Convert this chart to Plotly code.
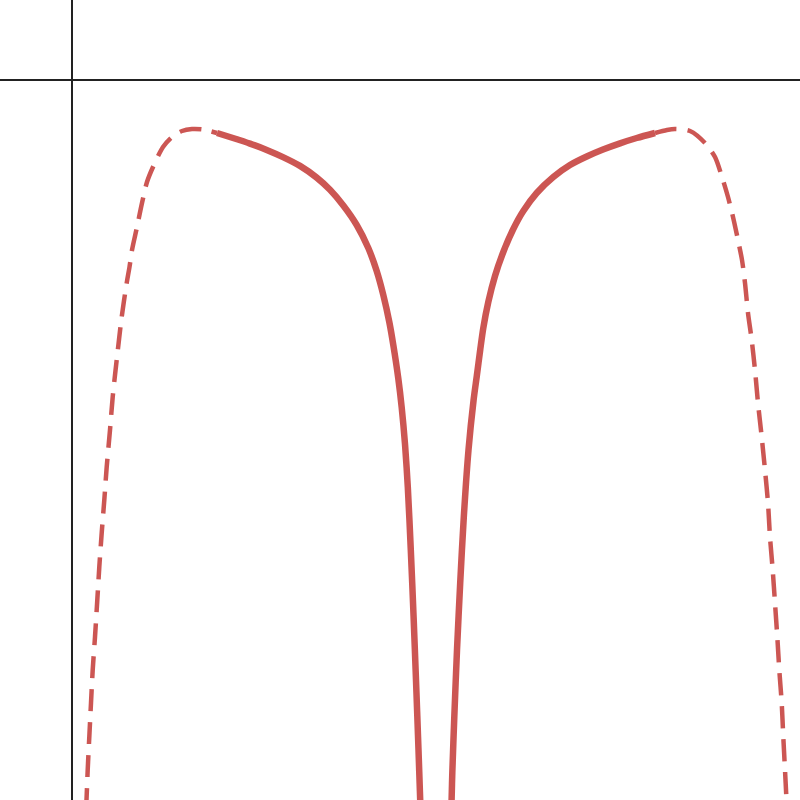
import plotly.graph_objects as go

# Dashed outer curve, left part (bottom to top)
dash_left_x = [0.14, 0.145, 0.157, 0.173, 0.19, 0.207, 0.23, 0.253, 0.273, 0.297, 0.323, 0.347, 0.38, 0.407,
               0.447, 0.497, 0.547, 0.575, 0.60, 0.65, 0.70, 0.75, 0.81, 0.91, 1.00, 1.10, 1.20, 1.31, 1.45]
dash_left_y = [-7.30, -7.20, -6.90, -6.57, -6.23, -5.90, -5.57, -5.20, -4.87, -4.53, -4.20, -3.87, -3.50, -3.17,
               -2.80, -2.37, -2.03, -1.87, -1.70, -1.47, -1.23, -1.02, -0.87, -0.67, -0.57, -0.51, -0.49, -0.495, -0.53]

# Dashed outer curve, right part (top to bottom)
dash_right_x = [5.83, 5.95, 6.03, 6.18, 6.33, 6.43, 6.50, 6.56, 6.61, 6.66, 6.70, 6.73, 6.76, 6.797, 6.83,
                6.86, 6.897, 6.93, 6.96, 6.98, 7.007, 7.03, 7.053, 7.073, 7.097, 7.113, 7.13, 7.145, 7.15]
dash_right_y = [-0.53, -0.50, -0.49, -0.51, -0.63, -0.77, -0.97, -1.17, -1.37, -1.60, -1.80, -2.03, -2.33, -2.60,
                -2.90, -3.23, -3.57, -3.90, -4.23, -4.57, -4.90, -5.23, -5.57, -5.90, -6.23, -6.57, -6.90, -7.20, -7.30]

# Solid inner curve, left branch
solid_left_x = [1.45, 1.61, 1.78, 1.947, 2.11, 2.28, 2.447, 2.58, 2.713, 2.847, 2.963, 3.047, 3.113, 3.173,
                3.213, 3.263, 3.297, 3.33, 3.358, 3.388, 3.416, 3.441, 3.465, 3.482, 3.485]
solid_left_y = [-0.53, -0.58, -0.636, -0.699, -0.771, -0.859, -0.976, -1.098, -1.255, -1.45, -1.68, -1.91, -2.15,
                -2.42, -2.65, -2.985, -3.275, -3.64, -4.07, -4.70, -5.37, -6.03, -6.70, -7.20, -7.30]

# Solid inner curve, right branch
solid_right_x = [5.83, 5.647, 5.48, 5.31, 5.147, 4.98, 4.813, 4.647, 4.513, 4.413, 4.313, 4.23, 4.163, 4.113,
                 4.082, 4.048, 4.016, 3.965, 3.918, 3.882, 3.85, 3.823, 3.803, 3.796, 3.794]
solid_right_y = [-0.53, -0.58, -0.633, -0.695, -0.765, -0.85, -0.97, -1.13, -1.31, -1.49, -1.72, -1.96, -2.22,
                 -2.48, -2.70, -2.96, -3.20, -3.70, -4.37, -5.03, -5.70, -6.37, -6.93, -7.20, -7.30]

RED = "rgba(199,68,64,0.9)"

fig = go.Figure()
for xs, ys in [(dash_left_x, dash_left_y), (dash_right_x, dash_right_y)]:
    fig.add_trace(go.Scatter(x=xs, y=ys, mode="lines",
                             line=dict(color=RED, width=4.5, dash="22px,11px", shape="spline", smoothing=0.8),
                             hoverinfo="skip", showlegend=False))
for xs, ys in [(solid_left_x, solid_left_y), (solid_right_x, solid_right_y)]:
    fig.add_trace(go.Scatter(x=xs, y=ys, mode="lines",
                             line=dict(color=RED, width=6.5, shape="spline", smoothing=0.8),
                             hoverinfo="skip", showlegend=False))

axis_common = dict(showgrid=False, zeroline=True, zerolinecolor="#222222", zerolinewidth=2,
                   showticklabels=False, ticks="", showline=False)
fig.update_layout(
    width=800, height=800,
    margin=dict(l=0, r=0, t=0, b=0),
    paper_bgcolor="white", plot_bgcolor="white",
    xaxis=dict(range=[-0.72, 7.28], **axis_common),
    yaxis=dict(range=[-7.20, 0.80], **axis_common),
)
fig.write_html("out.html", config={"displayModeBar": False},
               post_script="document.body.style.margin='0';")
